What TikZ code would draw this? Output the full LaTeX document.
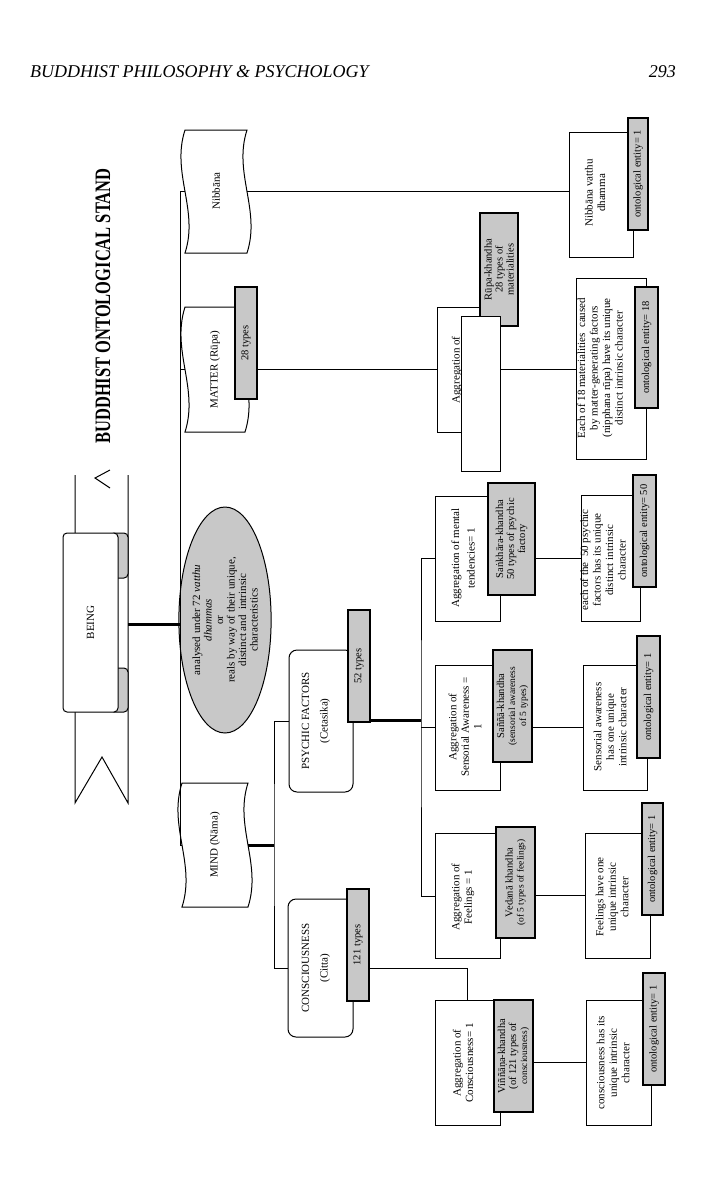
\documentclass[tikz,border=0pt]{standalone}
\usepackage{fontspec}
\setmainfont{Liberation Serif}
\usetikzlibrary{shapes.geometric,calc}
\definecolor{gfill}{HTML}{C8C8C8}
\tikzset{
  bx/.style={draw, fill=white, line width=1pt, rotate=90, inner sep=0pt},
  gb/.style={draw, fill=gfill, line width=1.5pt, rotate=90, inner sep=0pt, align=center, font=\fontsize{10.5}{11}\selectfont},
  lbl/.style={rotate=90, align=center, inner sep=0pt, font=\fontsize{11}{12.5}\selectfont},
  ln/.style={line width=1pt},
  thk/.style={line width=3pt},
}
\newcommand\wavyshape[4]{%
  \draw[ln, fill=white] (#1,#2) -- (#3,#2) .. controls ({#3-14},{#2+(#4-#2)*0.35}) and ({#3+14},{#2+(#4-#2)*0.65}) .. (#3,#4) -- (#1,#4) .. controls ({#1+14},{#2+(#4-#2)*0.65}) and ({#1-14},{#2+(#4-#2)*0.35}) .. (#1,#2) -- cycle;}
\begin{document}
\begin{tikzpicture}[x=1pt,y=-1pt]
\useasboundingbox (0,0) rectangle (726,1200);
% header
\node[anchor=west, inner sep=0pt, font=\fontsize{18}{20}\selectfont\itshape] (hdr) at (30,72) {BUDDHIST PHILOSOPHY \& PSYCHOLOGY};
\node[anchor=east, inner sep=0pt, font=\fontsize{18}{20}\selectfont\itshape] (pg) at (676,72) {293};
% title
\node[rotate=90, inner sep=0pt, font=\fontsize{22}{24}\selectfont\bfseries] (title) at (103,306) {\scalebox{0.75}[1]{BUDDHIST ONTOLOGICAL STAND}};
% banner
\draw[ln] (75,475) -- (75,803) -- (102,757) -- (128,803) -- (128,475);
\draw[ln] (110,470) -- (95,478) -- (110,488);
\draw[ln, fill=gfill, rounded corners=4pt] (110,533) rectangle (128,578);
\draw[ln, fill=gfill, rounded corners=4pt] (110,668) rectangle (128,712);
\node[bx, rounded corners=4pt, minimum width=179, minimum height=55] (being) at (90.5,622.5) {};
\node[lbl] (beingt) at (90.5,622.5) {BEING};
\coordinate (beingR) at (128,624);
\coordinate (tj) at (181,624);
% wavy boxes
\wavyshape{185}{130}{247}{253}
\node[rotate=90, minimum width=123, minimum height=62, inner sep=0pt, font=\fontsize{11}{12.5}\selectfont] (nib) at (216,191) {Nibb\=ana};
\wavyshape{185}{307}{245}{432}
\node[rotate=90, minimum width=125, minimum height=60, inner sep=0pt, font=\fontsize{11}{12.5}\selectfont] (mat) at (215,369.5) {MATTER (R\=upa)};
\node[gb, minimum width=112, minimum height=22] (t28) at (246,343) {28 types};
\wavyshape{182}{783}{248}{907}
\node[rotate=90, minimum width=124, minimum height=66, inner sep=0pt, font=\fontsize{11}{12.5}\selectfont] (mind) at (215,845) {MIND (N\=ama)};
% ellipse
\node[ellipse, draw, fill=gfill, line width=1pt, rotate=90, minimum width=226, minimum height=86, inner sep=0pt, align=center, font=\fontsize{11}{11.5}\selectfont] (ell) at (225,620) {analysed under 72 \textit{vatthu}\\\textit{dhammas}\\or\\reals by way of their unique,\\distinct and\ \ intrinsic\\characteristics};
% trunk
\draw[ln] (nib.north) -- ++(-4,0) |- (mind.north);
\draw[ln] (mat.north) -- ++(-4,0);
\draw[thk] (beingR) -- (tj);
% Nibbana branch
\node[bx, minimum width=125, minimum height=64] (nv) at (601,194.5) {};
\node[lbl] (nvt) at (595,193) {Nibb\=ana vatthu\\dhamma};
\node[gb, minimum width=112, minimum height=20] (nvo) at (638,174) {ontological entity= 1};
\draw[ln] (nib.south) -- (nib.south -| nv.north);
% Matter branch
\node[bx, minimum width=125, minimum height=63] (agg) at (468.5,369.5) {};
\node[lbl] (aggt) at (457,370) {Aggregation of};
\node[gb, minimum width=113, minimum height=38] (rk) at (499,269.5) {R\=upa-khandha\\28 types of\\materialities};
\node[bx, minimum width=155, minimum height=39] (ov) at (480.5,393.5) {};
\draw[ln] (t28.south |- mat.center) -- (agg.north);
\node[bx, minimum width=181, minimum height=70] (e18) at (611,368.5) {};
\node[lbl] (e18t) at (600,368) {Each of 18 materialities\ \ caused\\by matter-generating factors\\(nipphana r\=upa) have its unique\\distinct intrinsic character};
\node[gb, minimum width=121, minimum height=23] (e18o) at (646.5,347.5) {ontological entity= 18};
\draw[ln] (agg.south) -- (agg.south -| e18.north);
% Mind branch
\coordinate (mv) at (274,845);
\draw[thk] (mind.south) -- (mv);
\node[bx, rounded corners=8pt, minimum width=142, minimum height=64] (psy) at (321,721) {};
\node[lbl] (psyt) at (316,721) {PSYCHIC FACTORS\\[6pt](Cetasika)};
\node[gb, minimum width=112, minimum height=22] (t52) at (359,666) {52 types};
\node[bx, rounded corners=8pt, minimum width=138, minimum height=65] (con) at (320.5,968) {};
\node[lbl] (cont) at (316,968) {CONSCIOUSNESS\\[6pt](Citta)};
\node[gb, minimum width=112, minimum height=22] (t121) at (358,945) {121 types};
\draw[ln] (psy.north) -| (mv) |- (con.north);
% aggregates
\coordinate (pv) at (421,720);
\draw[thk] (t52.south |- pv) -- (pv);
\foreach \n/\y in {ma/558.5, sa/727.5, fa/896, ca/1062.5}{
  \node[bx, minimum width=125, minimum height=65] (\n) at (467.5,\y) {};
}
\node[lbl] (mat1) at (463,558) {Aggregation of mental\\[3pt]tendencies= 1};
\node[lbl] (sat1) at (465,727) {Aggregation of\\Sensorial Awareness =\\1};
\node[lbl] (fat1) at (463,897) {Aggregation of\\Feelings = 1};
\node[lbl] (cat1) at (463,1063) {Aggregation of\\Consciousness= 1};
\node[gb, minimum width=112, minimum height=47] (sk) at (511.5,539) {Sa\.nkh\=ara-khandha\\50 types of psychic\\factory};
\node[gb, minimum width=112, minimum height=39] (ss) at (512.5,706) {Sa\~n\~n\=a-khandha\\{\fontsize{9.5}{10}\selectfont(sensorial awareness}\\{\fontsize{9.5}{10}\selectfont of 5 types)}};
\node[gb, minimum width=111, minimum height=39] (vk) at (515.5,882.5) {Vedan\=a khandha\\{\fontsize{9.5}{10}\selectfont(of 5 types of feelings)}};
\node[gb, minimum width=112, minimum height=39] (vi) at (513.5,1056) {Vi\~n\~n\=a\d{n}a-khandha\\(of 121 types of\\{\fontsize{9.5}{10}\selectfont consciousness)}};
\draw[ln] (ma.north) -| (pv) |- (fa.north);
\draw[ln] (sa.north) -- (sa.north -| pv);
\draw[ln] (t121.south |- con.center) -| (ca.east);
% descriptions
\node[bx, minimum width=126, minimum height=59] (md) at (610.5,558) {};
\node[bx, minimum width=125, minimum height=64] (sd) at (615,727.5) {};
\node[bx, minimum width=125, minimum height=65] (fd) at (617.5,895.5) {};
\node[bx, minimum width=125, minimum height=65] (cd) at (618.5,1062.5) {};
\node[lbl] (mdt) at (603,560) {each of the\ \ 50 psychic\\factors has its unique\\distinct intrinsic\\character};
\node[lbl] (sdt) at (610,727) {Sensorial awareness\\has one unique\\intrinsic character};
\node[lbl] (fdt) at (612,897) {Feelings have one\\unique intrinsic\\character};
\node[lbl] (cdt) at (613,1063) {consciousness has its\\unique intrinsic\\character};
\node[gb, minimum width=112, minimum height=23] (mo) at (644.5,531) {ontological entity= 50};
\node[gb, minimum width=122, minimum height=23] (so) at (648.5,697) {ontological entity= 1};
\node[gb, minimum width=112, minimum height=21] (fo) at (652.5,859) {ontological entity= 1};
\node[gb, minimum width=112, minimum height=22] (co) at (654,1029) {ontological entity= 1};
\draw[ln] (sk.south |- md.center) -- (md.north);
\draw[ln] (ss.south |- sd.center) -- (sd.north);
\draw[ln] (vk.south |- fd.center) -- (fd.north);
\draw[ln] (vi.south |- cd.center) -- (cd.north);
\end{tikzpicture}
\end{document}
